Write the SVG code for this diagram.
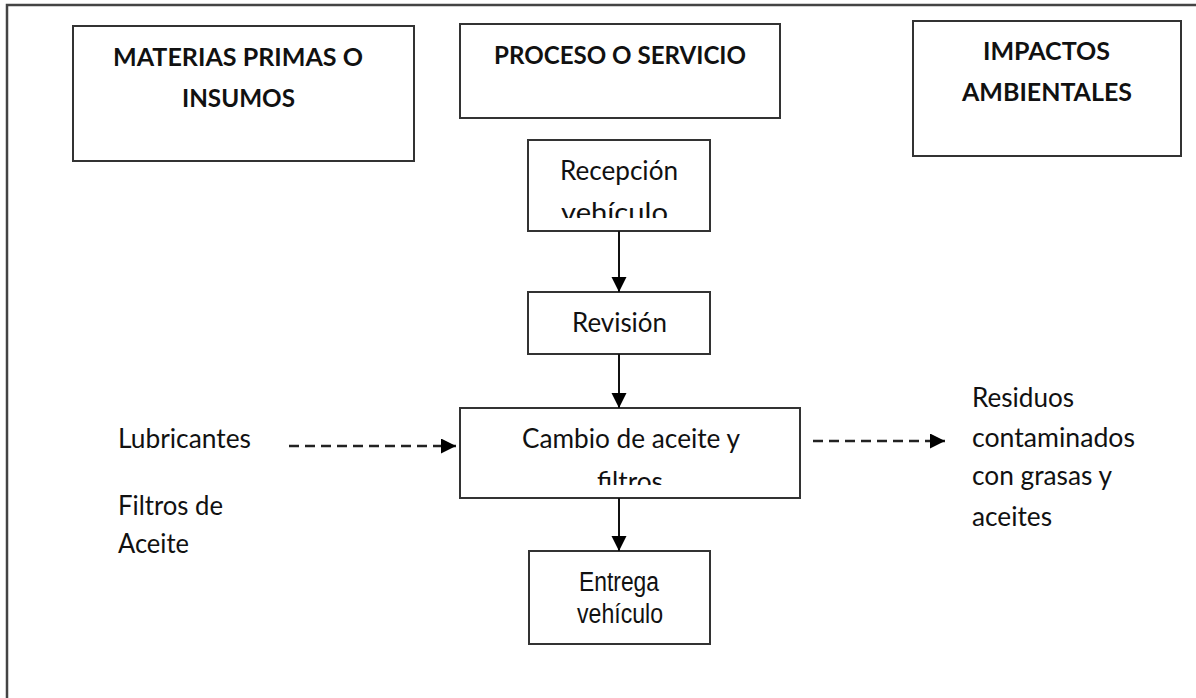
<svg xmlns="http://www.w3.org/2000/svg" width="1196" height="698" viewBox="0 0 1196 698">
<style>
.box{fill:#fff;stroke:#333;stroke-width:2}
.h{font-family:Lato,"Open Sans",sans-serif;font-weight:bold;font-size:25px;fill:#111}
.t{font-family:Lato,"Open Sans",sans-serif;font-size:26px;fill:#111}
.a{font-family:"Liberation Sans",Arial,sans-serif;font-size:27px;fill:#111}
.ln{stroke:#111;stroke-width:2;fill:none}
.dash{stroke:#222;stroke-width:2.5;stroke-dasharray:10 6;fill:none}
</style>
<defs>
<marker id="ah" markerUnits="userSpaceOnUse" markerWidth="16" markerHeight="16" refX="15" refY="7.5" orient="auto">
<path d="M0,0 L15,7.5 L0,15 z" fill="#000"/>
</marker>
<marker id="ahs" markerUnits="userSpaceOnUse" markerWidth="16" markerHeight="16" refX="15" refY="7.5" orient="auto">
<path d="M0,0 L15,7.5 L0,15 z" fill="#000"/>
</marker>
<clipPath id="clipRec"><rect x="528" y="140" width="182" height="78"/></clipPath>
<clipPath id="clipCam"><rect x="460" y="408" width="340" height="77"/></clipPath>
</defs>
<rect width="1196" height="698" fill="#fff"/>
<path d="M7,698 V5 H1196" fill="none" stroke="#444" stroke-width="2.5"/>

<g id="materias">
<rect class="box" x="73" y="26" width="341" height="135"/>
<text class="h" x="113" y="66" textLength="250" lengthAdjust="spacingAndGlyphs">MATERIAS PRIMAS O</text>
<text class="h" x="182" y="107" textLength="113" lengthAdjust="spacingAndGlyphs">INSUMOS</text>
</g>
<g id="proceso">
<rect class="box" x="460" y="24" width="320" height="94"/>
<text class="h" x="494" y="64" textLength="252" lengthAdjust="spacingAndGlyphs">PROCESO O SERVICIO</text>
</g>
<g id="impactos">
<rect class="box" x="913" y="21" width="268" height="135"/>
<text class="h" x="983" y="60" textLength="127" lengthAdjust="spacingAndGlyphs">IMPACTOS</text>
<text class="h" x="962" y="101" textLength="170" lengthAdjust="spacingAndGlyphs">AMBIENTALES</text>
</g>
<g id="recepcion">
<rect class="box" x="528" y="140" width="182" height="91"/>
<g clip-path="url(#clipRec)">
<text class="t" x="560" y="180" textLength="118" lengthAdjust="spacingAndGlyphs">Recepción</text>
<text class="t" x="561" y="222" textLength="107" lengthAdjust="spacingAndGlyphs">vehículo</text>
</g>
</g>
<g id="revision">
<rect class="box" x="528" y="292" width="182" height="62"/>
<text class="t" x="572" y="332" textLength="95" lengthAdjust="spacingAndGlyphs">Revisión</text>
</g>
<g id="cambio">
<rect class="box" x="460" y="408" width="340" height="90"/>
<g clip-path="url(#clipCam)">
<text class="t" x="522" y="448" textLength="218" lengthAdjust="spacingAndGlyphs">Cambio de aceite y</text>
<text class="t" x="597" y="491" textLength="66" lengthAdjust="spacingAndGlyphs">filtros</text>
</g>
</g>
<g id="entrega">
<rect class="box" x="529" y="551" width="181" height="93"/>
<text class="a" x="579" y="591" textLength="80" lengthAdjust="spacingAndGlyphs">Entrega</text>
<text class="a" x="577" y="623" textLength="86" lengthAdjust="spacingAndGlyphs">vehículo</text>
</g>
<g id="insumos">
<text class="t" x="118" y="448" textLength="133" lengthAdjust="spacingAndGlyphs">Lubricantes</text>
<text class="t" x="118" y="515" textLength="105" lengthAdjust="spacingAndGlyphs">Filtros de</text>
<text class="t" x="118" y="553" textLength="71" lengthAdjust="spacingAndGlyphs">Aceite</text>
</g>
<g id="residuos">
<text class="t" x="972" y="407" textLength="102" lengthAdjust="spacingAndGlyphs">Residuos</text>
<text class="t" x="972" y="447" textLength="163" lengthAdjust="spacingAndGlyphs">contaminados</text>
<text class="t" x="972" y="485" textLength="140" lengthAdjust="spacingAndGlyphs">con grasas y</text>
<text class="t" x="972" y="526" textLength="80" lengthAdjust="spacingAndGlyphs">aceites</text>
</g>
<g id="connectors">
<line class="ln" x1="619" y1="231" x2="619" y2="292" marker-end="url(#ah)"/>
<line class="ln" x1="619" y1="354" x2="619" y2="408" marker-end="url(#ah)"/>
<line class="ln" x1="619" y1="498" x2="619" y2="551" marker-end="url(#ah)"/>
<line class="dash" x1="289" y1="446" x2="456" y2="446" marker-end="url(#ahs)"/>
<line class="dash" x1="813" y1="441" x2="945" y2="441" marker-end="url(#ahs)"/>
</g>
</svg>
